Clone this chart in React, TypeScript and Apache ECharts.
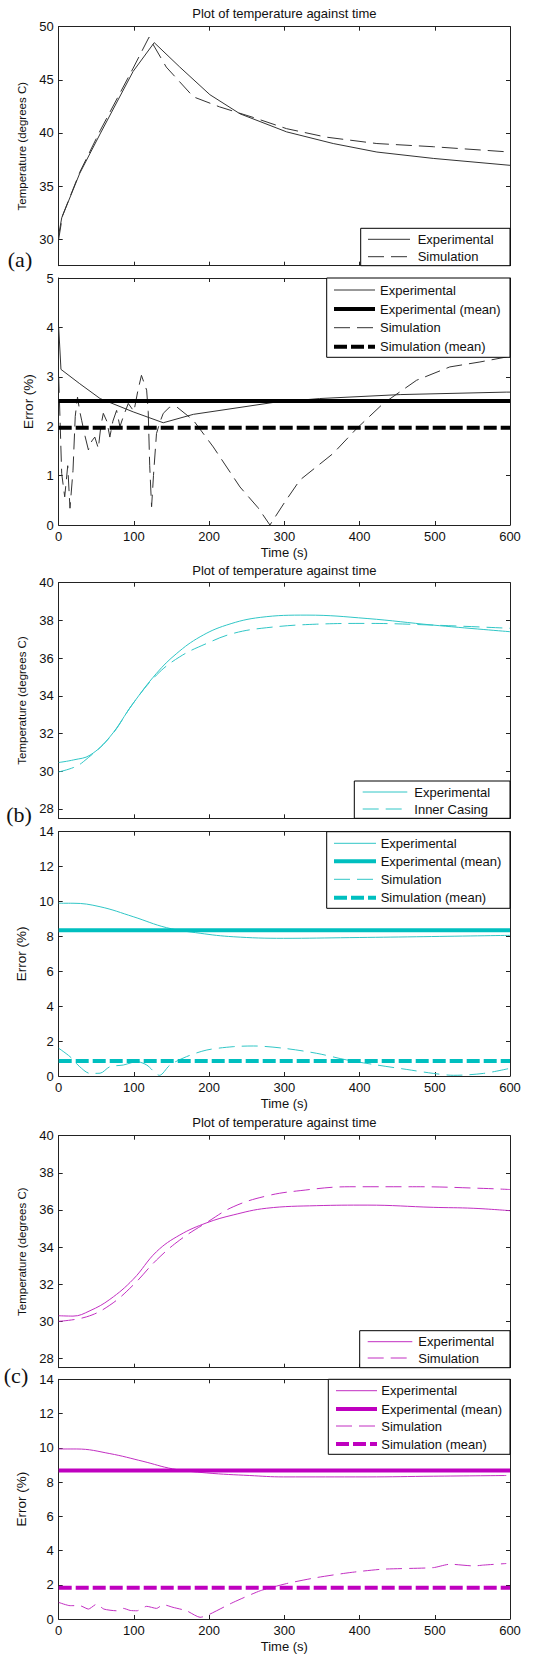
import React, { useEffect, useRef } from "react";
import * as echarts from "echarts";

// ---------- tick labels ----------
const timeTicks = [0, 100, 200, 300, 400, 500, 600];
const tempTicksA = [30, 35, 40, 45, 50];
const tempTicksBC = [28, 30, 32, 34, 36, 38, 40];
const errTicksA = [0, 1, 2, 3, 4, 5];
const errTicksBC = [0, 2, 4, 6, 8, 10, 12, 14];

// ---------- panel (a) ----------
const aExpTemp = [[0, 30.4], [4, 32.0], [28, 36.2], [55, 39.9], [99, 45.8], [127, 48.5], [161, 46.2], [201, 43.6], [241, 41.8], [303, 40.1], [365, 39.0], [423, 38.2], [498, 37.6], [600, 36.95]];
const aSimTemp = [[0, 30.0], [5, 32.2], [28, 36.3], [55, 40.2], [99, 46.1], [120, 49.0], [143, 46.2], [179, 43.4], [214, 42.45], [259, 41.45], [303, 40.4], [356, 39.6], [423, 39.0], [498, 38.7], [600, 38.2]];
const aExpErr = [[0, 4.0], [3, 3.15], [28, 2.86], [55, 2.56], [99, 2.29], [139, 2.07], [179, 2.24], [285, 2.48], [347, 2.56], [454, 2.64], [595, 2.69], [600, 2.69]];
const aSimErr = [[0, 3.0], [4, 1.04], [8, 0.57], [12, 1.2], [15, 0.34], [19, 1.1], [22, 2.2], [25, 2.59], [28, 2.3], [30.5, 2.12], [35, 1.8], [39.5, 1.52], [44, 1.7], [48, 1.78], [52.7, 1.55], [56, 2.0], [59.3, 2.26], [64, 2.1], [68, 1.78], [72, 2.1], [77, 2.32], [81.4, 1.99], [86, 2.2], [92.5, 2.46], [100, 2.3], [105, 2.7], [110, 3.03], [116.9, 2.73], [119, 2.3], [121, 1.2], [123.5, 0.37], [126, 1.0], [130, 1.85], [135, 2.1], [139, 2.26], [147, 2.38], [157, 2.39], [179, 2.12], [205.5, 1.58], [241, 0.77], [265, 0.35], [280.8, 0.0], [300, 0.45], [320.7, 0.91], [365, 1.45], [396, 1.95], [431.5, 2.46], [475.8, 2.93], [520, 3.2], [560, 3.3], [595, 3.4], [600, 3.42]];
const aExpMean = 2.51;
const aSimMean = 1.97;

// ---------- panel (b) ----------
const bExpTemp = [[0, 30.46], [20, 30.6], [41.6, 30.85], [68, 31.82], [99, 33.6], [130, 35.19], [157, 36.25], [188, 37.13], [223, 37.75], [268, 38.16], [330, 38.28], [410, 38.1], [498, 37.75], [600, 37.4]];
const bSimTemp = [[0, 29.96], [20, 30.2], [32.7, 30.5], [68, 31.8], [99, 33.6], [130, 35.1], [161, 36.07], [197, 36.78], [232, 37.31], [276, 37.61], [343, 37.8], [410, 37.84], [498, 37.75], [600, 37.58]];
const bExpErr = [[0, 9.9], [19, 9.9], [55, 9.7], [99, 9.13], [143.5, 8.5], [188, 8.18], [232, 7.98], [299, 7.89], [387, 7.93], [476, 7.98], [600, 8.06]];
const bSimErr = [[0, 1.59], [15, 1.11], [28, 0.53], [41.6, 0.15], [55, 0.16], [68, 0.53], [86, 0.63], [104, 0.82], [117, 0.63], [134, 0.04], [148, 0.63], [170, 1.11], [197, 1.49], [232, 1.68], [259, 1.72], [299, 1.59], [343, 1.3], [383, 0.92], [423, 0.63], [462, 0.38], [498, 0.15], [525, 0.04], [565, 0.15], [600, 0.44]];
const bExpMean = 8.35;
const bSimMean = 0.86;

// ---------- panel (c) ----------
const cExpTemp = [[0, 30.3], [19, 30.28], [41.6, 30.57], [68, 31.18], [99, 32.26], [130, 33.75], [161, 34.65], [197, 35.31], [232, 35.73], [276, 36.09], [343, 36.23], [410, 36.26], [498, 36.14], [551, 36.09], [600, 35.96]];
const cSimTemp = [[0, 30.0], [37, 30.24], [68, 30.87], [99, 31.95], [130, 33.3], [161, 34.38], [197, 35.33], [232, 36.17], [276, 36.75], [321, 37.04], [387, 37.25], [476, 37.25], [565, 37.16], [600, 37.1]];
const cExpErr = [[0, 9.93], [24, 9.93], [68, 9.66], [112, 9.21], [151.5, 8.77], [197, 8.53], [254, 8.38], [299, 8.3], [410, 8.3], [498, 8.34], [595, 8.38]];
const cSimErr = [[0, 0.97], [15, 0.78], [28, 0.78], [39.5, 0.58], [50.5, 0.87], [60, 0.58], [77, 0.48], [86, 0.62], [95, 0.5], [104, 0.48], [117, 0.74], [130, 0.62], [139, 0.84], [152, 0.68], [170, 0.48], [188, 0.1], [197, 0.2], [232, 0.97], [268, 1.65], [303, 2.07], [343, 2.42], [387, 2.71], [431, 2.91], [498, 3.0], [520, 3.2], [552, 3.1], [565, 3.15], [595, 3.24]];
const cExpMean = 8.67;
const cSimMean = 1.82;

const TITLE = "Plot of temperature against time";
const SANS = "'Liberation Sans', Arial, Helvetica, sans-serif";
const SERIF = "'Liberation Serif', 'Times New Roman', serif";
const AXC = "#222";

const BLACK = { thin: "#333333", thick: "#000000" };
const CYAN = { thin: "#30c6c6", thick: "#00bfbf" };
const MAG = { thin: "#c22fc2", thick: "#bf00bf" };

const PLOT_LEFT = 58.7;
const PLOT_W = 451.3;
const GRIDS = [
  { top: 26.7, height: 239 },
  { top: 278, height: 247 },
  { top: 582.7, height: 235.6 },
  { top: 831.7, height: 244.3 },
  { top: 1135.7, height: 232 },
  { top: 1379.3, height: 240.7 },
];

const THIN_DASH = [16, 7];
const THICK_DASH = [13, 4];

function mkLine(name: string, data: number[][], gi: number, color: string, width: number, dash: any, smooth: number | boolean) {
  return {
    type: "line",
    name,
    data,
    xAxisIndex: gi * 2,
    yAxisIndex: gi * 2,
    symbol: "none",
    showSymbol: false,
    smooth,
    z: width > 2 ? 3 : 2,
    lineStyle: { color, width, type: dash ? dash : "solid" },
    silent: true,
  };
}

function meanData(m: number) {
  return [[0, m], [600, m]];
}

function legendBox(x: number, y: number, w: number, h: number, rowsY: number[], lineX1: number, lineX2: number, textX: number, items: any[]) {
  const children: any[] = [
    { type: "rect", shape: { x, y, width: w, height: h }, style: { fill: "#fff", stroke: "#000", lineWidth: 1 }, z: 50 },
  ];
  items.forEach((it, k) => {
    const yy = rowsY[k];
    children.push({
      type: "line",
      shape: { x1: lineX1, y1: yy, x2: lineX2, y2: yy },
      style: { stroke: it.color, lineWidth: it.width, lineDash: it.dash || null },
      z: 51,
    });
    children.push({
      type: "text",
      x: textX,
      y: yy,
      style: { text: it.label, fill: "#111", font: "13px " + SANS, textAlign: "left", textVerticalAlign: "middle", align: "left", verticalAlign: "middle" },
      z: 51,
    });
  });
  return children;
}

function textEl(text: string, x: number, y: number, font: string, align = "center", rotation = 0) {
  return {
    type: "text",
    x,
    y,
    rotation,
    style: { text, fill: "#111", font, textAlign: align, textVerticalAlign: "middle", align, verticalAlign: "middle" },
    z: 60,
  };
}

export default function App() {
  const ref = useRef<HTMLDivElement>(null);
  useEffect(() => {
    if (!ref.current) return;
    const chart = echarts.init(ref.current, null, { renderer: "svg" });

    const yRanges = [
      { min: 27.5, max: 50, ticks: tempTicksA, name: "Temperature (degrees C)", gap: 27, fs: 11.5 },
      { min: 0, max: 5, ticks: errTicksA, name: "Error (%)", gap: 23, fs: 13.5 },
      { min: 27.5, max: 40, ticks: tempTicksBC, name: "Temperature (degrees C)", gap: 27, fs: 11.5 },
      { min: 0, max: 14, ticks: errTicksBC, name: "Error (%)", gap: 27, fs: 13.5 },
      { min: 27.5, max: 40, ticks: tempTicksBC, name: "Temperature (degrees C)", gap: 27, fs: 11.5 },
      { min: 0, max: 14, ticks: errTicksBC, name: "Error (%)", gap: 27, fs: 13.5 },
    ];

    const grid = GRIDS.map((g) => ({ left: PLOT_LEFT, width: PLOT_W, top: g.top, height: g.height, containLabel: false }));

    const xAxis: any[] = [];
    const yAxis: any[] = [];
    GRIDS.forEach((g, i) => {
      const showX = i % 2 === 1;
      xAxis.push({
        gridIndex: i,
        type: "value",
        min: 0,
        max: 600,
        position: "bottom",
        axisLine: { show: true, onZero: false, lineStyle: { color: AXC, width: 1 } },
        axisTick: { show: true, inside: true, length: 4, customValues: timeTicks, lineStyle: { color: AXC } },
        axisLabel: { show: showX, customValues: timeTicks, margin: 5, fontSize: 13, color: "#111", fontFamily: SANS },
        splitLine: { show: false },
        name: showX ? "Time (s)" : "",
        nameLocation: "middle",
        nameGap: 21,
        nameTextStyle: { fontSize: 13, color: "#111", fontFamily: SANS },
      });
      xAxis.push({
        gridIndex: i,
        type: "value",
        min: 0,
        max: 600,
        position: "top",
        axisLine: { show: true, onZero: false, lineStyle: { color: AXC, width: 1 } },
        axisTick: { show: true, inside: true, length: 4, customValues: timeTicks, lineStyle: { color: AXC } },
        axisLabel: { show: false },
        splitLine: { show: false },
      });
      const r = yRanges[i];
      yAxis.push({
        gridIndex: i,
        type: "value",
        min: r.min,
        max: r.max,
        position: "left",
        axisLine: { show: true, onZero: false, lineStyle: { color: AXC, width: 1 } },
        axisTick: { show: true, inside: true, length: 4, customValues: r.ticks, lineStyle: { color: AXC } },
        axisLabel: { show: true, customValues: r.ticks, margin: 5, fontSize: 13, color: "#111", fontFamily: SANS },
        splitLine: { show: false },
        name: r.name,
        nameLocation: "middle",
        nameRotate: 90,
        nameGap: r.gap,
        nameTextStyle: { fontSize: r.fs, color: "#111", fontFamily: SANS },
      });
      yAxis.push({
        gridIndex: i,
        type: "value",
        min: r.min,
        max: r.max,
        position: "right",
        axisLine: { show: true, onZero: false, lineStyle: { color: AXC, width: 1 } },
        axisTick: { show: true, inside: true, length: 4, customValues: r.ticks, lineStyle: { color: AXC } },
        axisLabel: { show: false },
        splitLine: { show: false },
      });
    });

    const series: any[] = [
      mkLine("Experimental", aExpTemp, 0, BLACK.thin, 1, null, false),
      mkLine("Simulation", aSimTemp, 0, BLACK.thin, 1, THIN_DASH, false),
      mkLine("Experimental", aExpErr, 1, BLACK.thin, 1, null, false),
      mkLine("Experimental (mean)", meanData(aExpMean), 1, BLACK.thick, 4, null, false),
      mkLine("Simulation", aSimErr, 1, BLACK.thin, 1, THIN_DASH, false),
      mkLine("Simulation (mean)", meanData(aSimMean), 1, BLACK.thick, 4, THICK_DASH, false),

      mkLine("Experimental", bExpTemp, 2, CYAN.thin, 1, null, 0.4),
      mkLine("Inner Casing", bSimTemp, 2, CYAN.thin, 1, THIN_DASH, 0.4),
      mkLine("Experimental", bExpErr, 3, CYAN.thin, 1, null, 0.4),
      mkLine("Experimental (mean)", meanData(bExpMean), 3, CYAN.thick, 4, null, false),
      mkLine("Simulation", bSimErr, 3, CYAN.thin, 1, THIN_DASH, 0.3),
      mkLine("Simulation (mean)", meanData(bSimMean), 3, CYAN.thick, 4, THICK_DASH, false),

      mkLine("Experimental", cExpTemp, 4, MAG.thin, 1, null, 0.4),
      mkLine("Simulation", cSimTemp, 4, MAG.thin, 1, THIN_DASH, 0.4),
      mkLine("Experimental", cExpErr, 5, MAG.thin, 1, null, 0.4),
      mkLine("Experimental (mean)", meanData(cExpMean), 5, MAG.thick, 4, null, false),
      mkLine("Simulation", cSimErr, 5, MAG.thin, 1, THIN_DASH, 0.2),
      mkLine("Simulation (mean)", meanData(cSimMean), 5, MAG.thick, 4, THICK_DASH, false),
    ];

    const titleFont = "13px " + SANS;
    const labelFont = "22px " + SERIF;
    const cx = PLOT_LEFT + PLOT_W / 2;

    const four = (c: any, labels: string[]) => [
      { label: labels[0], color: c.thin, width: 1 },
      { label: labels[1], color: c.thick, width: 4 },
      { label: labels[2], color: c.thin, width: 1, dash: THIN_DASH },
      { label: labels[3], color: c.thick, width: 4, dash: THICK_DASH },
    ];
    const errLabels = ["Experimental", "Experimental (mean)", "Simulation", "Simulation (mean)"];

    const graphicEls: any[] = [
      textEl(TITLE, cx, 13.5, titleFont),
      textEl(TITLE, cx, 570, titleFont),
      textEl(TITLE, cx, 1122.5, titleFont),
      textEl("(a)", 20, 259, labelFont),
      textEl("(b)", 19, 814, labelFont),
      textEl("(c)", 16, 1375, labelFont),
      ...legendBox(360.7, 228.3, 149.3, 37.4, [239.3, 256.7], 368, 410, 417.7, [
        { label: "Experimental", color: BLACK.thin, width: 1 },
        { label: "Simulation", color: BLACK.thin, width: 1, dash: THIN_DASH },
      ]),
      ...legendBox(326.7, 278, 183.3, 79.3, [290, 309, 327.7, 346.7], 334, 375, 380, four(BLACK, errLabels)),
      ...legendBox(354.3, 781, 155.7, 37.3, [792, 809], 362.7, 407.3, 414.3, [
        { label: "Experimental", color: CYAN.thin, width: 1 },
        { label: "Inner Casing", color: CYAN.thin, width: 1, dash: THIN_DASH },
      ]),
      ...legendBox(326.7, 831.7, 183.3, 76.6, [843.3, 861.3, 879.3, 897.7], 334, 376, 380.7, four(CYAN, errLabels)),
      ...legendBox(359.7, 1330.7, 150.3, 37, [1341.7, 1358], 367.7, 412.3, 418.3, [
        { label: "Experimental", color: MAG.thin, width: 1 },
        { label: "Simulation", color: MAG.thin, width: 1, dash: THIN_DASH },
      ]),
      ...legendBox(328.3, 1379.3, 181.7, 75, [1390.7, 1409, 1426, 1444], 336, 377, 381.3, four(MAG, errLabels)),
    ];

    chart.setOption({
      animation: false,
      backgroundColor: "#ffffff",
      grid,
      xAxis,
      yAxis,
      series,
      graphic: { elements: graphicEls },
    });
    return () => chart.dispose();
  }, []);

  return <div ref={ref} style={{ position: "absolute", left: 0, top: 0, width: 559, height: 1654 }} />;
}
